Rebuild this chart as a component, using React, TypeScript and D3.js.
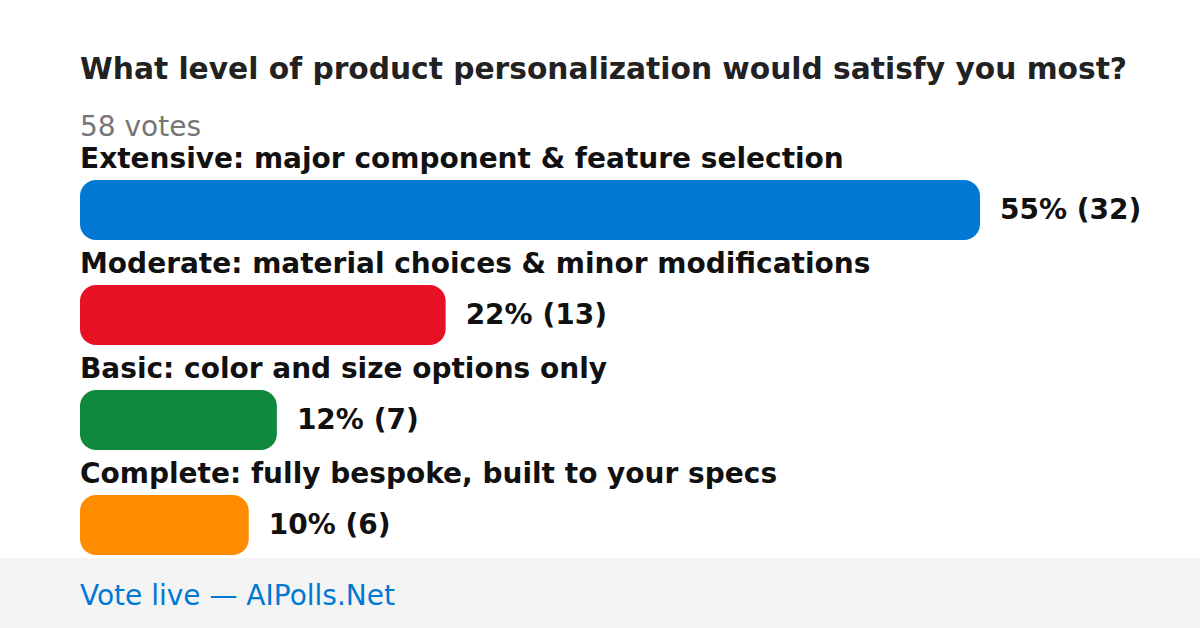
import React from "react";
import * as d3 from "d3";

const title = "What level of product personalization would satisfy you most?";
const totalVotes = "58 votes";
const categories = [
  "Extensive: major component & feature selection",
  "Moderate: material choices & minor modifications",
  "Basic: color and size options only",
  "Complete: fully bespoke, built to your specs",
];
const counts = [32, 13, 7, 6];
const percents = [55, 22, 12, 10];
const colors = ["#0078d4", "#e81123", "#10893e", "#ff8c00"];
const footer = "Vote live — AIPolls.Net";

const W = 1200;
const H = 628;
const FONT = "'DejaVu Sans', sans-serif";

export default function App() {
  const x = d3.scaleLinear().domain([0, d3.max(counts) as number]).range([0, 900]);
  const y = d3.scaleBand<number>().domain(d3.range(categories.length)).range([180, 600]).paddingInner(0);
  const barH = 60;
  return (
    <svg width={W} height={H} style={{ position: "absolute", left: 0, top: 0 }}>
      <rect x={0} y={0} width={W} height={H} fill="#ffffff" />
      <text x={80} y={79} fontFamily={FONT} fontWeight="bold" fontSize={29.7} fill="#222222">
        {title}
      </text>
      <text x={80} y={136} fontFamily={FONT} fontSize={28} fill="#767676">
        {totalVotes}
      </text>
      {categories.map((c, i) => {
        const by = y(i) as number;
        const w = x(counts[i]);
        return (
          <g key={c}>
            <text x={80} y={by - 12} fontFamily={FONT} fontWeight="bold" fontSize={28} fill="#111111">
              {c}
            </text>
            <rect x={80} y={by} width={w} height={barH} rx={16} ry={16} fill={colors[i]} />
            <text x={80 + w + 20} y={by + 39} fontFamily={FONT} fontWeight="bold" fontSize={28} fill="#111111">
              {`${percents[i]}% (${counts[i]})`}
            </text>
          </g>
        );
      })}
      <rect x={0} y={558} width={W} height={70} fill="#f4f4f4" />
      <text x={80} y={605} fontFamily={FONT} fontSize={28} fill="#0078d4">
        {footer}
      </text>
    </svg>
  );
}
